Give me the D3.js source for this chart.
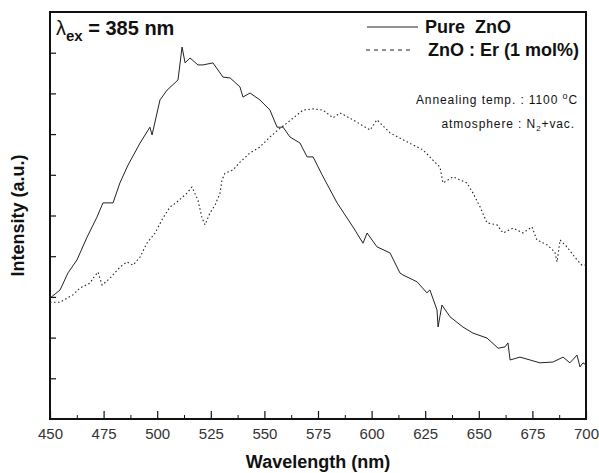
<!DOCTYPE html>
<html>
<head>
<meta charset="utf-8">
<script src="https://cdn.jsdelivr.net/npm/d3@7"></script>
<style>
  body { margin: 0; background: #fff; }
  svg text { font-family: "Liberation Sans", Arial, sans-serif; fill: #111; }
  .tick text { font-size: 15px; fill: #333; }
</style>
</head>
<body>
<div id="chart"></div>
<script>
// Pure ZnO (solid)
const pureWl = [450.0, 454.7, 458.4, 462.6, 467.3, 471.9, 474.7, 479.4, 482.6, 486.4, 492.0, 496.6, 497.6, 501.3, 504.6, 509.7, 511.6, 513.0, 515.3, 519.0, 521.4, 526.0, 530.7, 534.0, 538.6, 540.0, 543.3, 547.9, 552.6, 555.9, 558.7, 561.9, 566.6, 569.9, 572.7, 576.9, 583.9, 591.3, 596.0, 597.9, 602.5, 608.6, 613.2, 614.6, 621.2, 625.8, 627.2, 630.5, 631.0, 632.8, 636.6, 642.6, 647.3, 653.8, 659.0, 662.2, 663.6, 664.6, 669.2, 673.9, 678.5, 684.6, 689.3, 692.5, 695.8, 697.2, 698.6, 700.0];
const pureI = [2.97, 3.17, 3.59, 3.91, 4.47, 4.96, 5.31, 5.31, 5.80, 6.24, 6.78, 7.17, 6.98, 7.84, 8.08, 8.33, 9.14, 8.75, 8.87, 8.70, 8.70, 8.75, 8.40, 8.38, 8.16, 7.91, 8.01, 7.84, 7.59, 7.17, 7.17, 6.93, 6.78, 6.44, 6.44, 6.00, 5.31, 4.72, 4.32, 4.57, 4.23, 4.08, 3.59, 3.54, 3.37, 3.10, 3.17, 2.68, 2.26, 2.80, 2.51, 2.26, 2.11, 1.99, 1.74, 1.77, 1.87, 1.45, 1.52, 1.45, 1.38, 1.40, 1.52, 1.38, 1.57, 1.28, 1.38, 1.33];

// ZnO : Er (dotted)
const erWl = [450.0, 454.7, 457.9, 460.7, 464.0, 468.7, 470.1, 472.4, 474.3, 478.0, 482.6, 485.9, 488.7, 492.0, 495.2, 499.0, 502.7, 506.0, 509.2, 513.9, 516.2, 519.0, 520.9, 522.3, 524.6, 527.0, 529.3, 530.2, 531.6, 535.4, 538.6, 543.3, 547.9, 552.6, 556.3, 560.5, 565.2, 568.0, 572.7, 577.3, 582.0, 585.3, 591.3, 599.3, 602.5, 608.6, 616.5, 624.0, 628.6, 631.9, 633.3, 638.0, 644.5, 647.3, 650.6, 653.8, 658.5, 661.3, 666.0, 670.6, 674.8, 677.1, 681.8, 685.5, 686.5, 687.9, 691.1, 695.8, 698.1, 700.0];
const erI = [2.87, 2.87, 2.97, 3.05, 3.22, 3.34, 3.46, 3.61, 3.29, 3.46, 3.73, 3.86, 3.78, 3.98, 4.32, 4.57, 4.94, 5.21, 5.33, 5.55, 5.70, 5.38, 4.94, 4.77, 5.06, 5.26, 5.55, 5.87, 6.04, 6.12, 6.31, 6.54, 6.68, 6.93, 7.10, 7.27, 7.47, 7.59, 7.62, 7.59, 7.40, 7.52, 7.35, 7.10, 7.35, 7.03, 6.81, 6.61, 6.36, 6.19, 5.80, 5.95, 5.80, 5.55, 5.21, 4.82, 4.77, 4.57, 4.69, 4.57, 4.72, 4.40, 4.28, 4.10, 3.86, 4.40, 4.23, 3.91, 3.78, 3.78];

const xTicks = [450, 475, 500, 525, 550, 575, 600, 625, 650, 675, 700];
const yTicks = [1, 2, 3, 4, 5, 6, 7, 8, 9];

const width = 599, height = 473;
const margin = {top: 12, right: 13, bottom: 54, left: 50};

const svg = d3.select('#chart')
  .append('svg')
  .attr('width', width)
  .attr('height', height);

const x = d3.scaleLinear()
  .domain([450, 700])
  .range([margin.left, width - margin.right]);

const y = d3.scaleLinear()
  .domain([0, 10])
  .range([height - margin.bottom, margin.top]);

// minor x ticks
svg.append('g')
  .attr('transform', `translate(0,${y(0)})`)
  .call(d3.axisTop(x).tickValues(d3.range(462.5, 700, 25)).tickSize(4).tickFormat(''))
  .call(g => g.select('.domain').remove())
  .selectAll('line').attr('stroke', '#111');

// major x ticks
svg.append('g')
  .attr('transform', `translate(0,${y(0)})`)
  .call(d3.axisTop(x).tickValues(xTicks).tickSize(8).tickFormat(''))
  .call(g => g.select('.domain').remove())
  .selectAll('line').attr('stroke', '#111').attr('stroke-width', 1.2);

// x tick labels
svg.append('g')
  .attr('transform', `translate(0,${y(0)})`)
  .call(d3.axisBottom(x).tickValues(xTicks).tickSize(0).tickPadding(9).tickFormat(d3.format('d')))
  .call(g => g.select('.domain').remove());

// y ticks (left, inward)
svg.append('g')
  .attr('transform', `translate(${x(450)},0)`)
  .call(d3.axisRight(y).tickValues(yTicks).tickSize(6).tickFormat(''))
  .call(g => g.select('.domain').remove())
  .selectAll('line').attr('stroke', '#111').attr('stroke-width', 1.2);

// frame
svg.append('rect')
  .attr('x', x(450))
  .attr('y', y(10))
  .attr('width', x(700) - x(450))
  .attr('height', y(0) - y(10))
  .attr('fill', 'none')
  .attr('stroke', '#111')
  .attr('stroke-width', 2);

const line = d3.line()
  .x(d => x(d[0]))
  .y(d => y(d[1]));

svg.append('path')
  .datum(d3.zip(pureWl, pureI))
  .attr('fill', 'none')
  .attr('stroke', '#222')
  .attr('stroke-width', 1)
  .attr('d', line);

svg.append('path')
  .datum(d3.zip(erWl, erI))
  .attr('fill', 'none')
  .attr('stroke', '#222')
  .attr('stroke-width', 1.1)
  .attr('stroke-dasharray', '1.5,2.5')
  .attr('d', line);

// legend
svg.append('line')
  .attr('x1', 367).attr('x2', 418).attr('y1', 27).attr('y2', 27)
  .attr('stroke', '#222').attr('stroke-width', 1);
svg.append('text')
  .attr('x', 425).attr('y', 33)
  .attr('font-size', 18).attr('font-weight', 'bold')
  .attr('xml:space', 'preserve')
  .text('Pure  ZnO');

svg.append('line')
  .attr('x1', 366).attr('x2', 410).attr('y1', 50).attr('y2', 50)
  .attr('stroke', '#222').attr('stroke-width', 1).attr('stroke-dasharray', '4,4');
svg.append('text')
  .attr('x', 428).attr('y', 56)
  .attr('font-size', 18).attr('font-weight', 'bold')
  .text('ZnO : Er (1 mol%)');

// annotations
const ann1 = svg.append('text')
  .attr('x', 578).attr('y', 104)
  .attr('text-anchor', 'end')
  .attr('font-size', 12)
  .attr('letter-spacing', 0.9);
ann1.append('tspan').text('Annealing  temp. : 1100 ');
ann1.append('tspan').attr('dy', -5).attr('font-size', 9).text('o');
ann1.append('tspan').attr('dy', 5).text('C');

const ann2 = svg.append('text')
  .attr('x', 575).attr('y', 128)
  .attr('text-anchor', 'end')
  .attr('font-size', 12)
  .attr('letter-spacing', 0.9);
ann2.append('tspan').text('atmosphere : N');
ann2.append('tspan').attr('dy', 3).attr('font-size', 8).text('2');
ann2.append('tspan').attr('dy', -3).text('+vac.');

const lam = svg.append('text')
  .attr('x', 56).attr('y', 35)
  .attr('font-size', 20).attr('font-weight', 'bold');
lam.append('tspan').attr('font-weight', 'normal').text('λ');
lam.append('tspan').attr('dy', 6).attr('font-size', 15).text('ex');
lam.append('tspan').attr('dy', -6).text(' = 385 nm');

// axis titles
svg.append('text')
  .attr('x', 318).attr('y', 468)
  .attr('text-anchor', 'middle')
  .attr('font-size', 18).attr('font-weight', 'bold')
  .text('Wavelength (nm)');

svg.append('text')
  .attr('transform', `translate(24,${y(5)}) rotate(-90)`)
  .attr('text-anchor', 'middle')
  .attr('font-size', 18).attr('font-weight', 'bold')
  .text('Intensity (a.u.)');
</script>
</body>
</html>
